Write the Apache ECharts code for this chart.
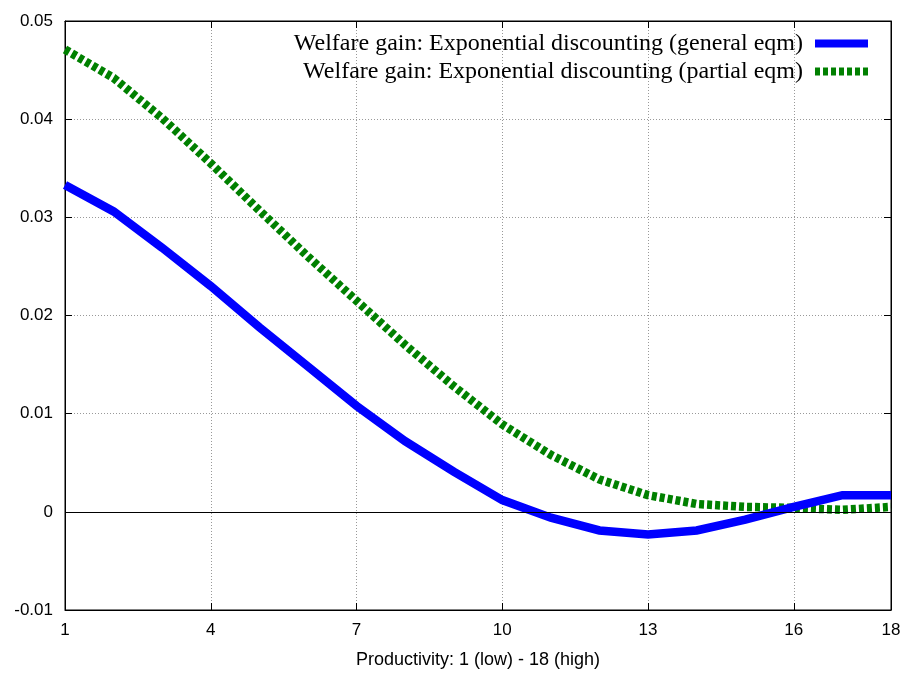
<!DOCTYPE html>
<html><head><meta charset="utf-8">
<script src="https://cdn.jsdelivr.net/npm/echarts@6/dist/echarts.min.js"></script>
<style>html,body{margin:0;padding:0;background:#fff}#c{width:908px;height:673px}</style>
</head><body><div id="c"></div>
<script>
var productivity = [1,2,3,4,5,6,7,8,9,10,11,12,13,14,15,16,17,18];
var generalEqm = [0.0333,0.0306,0.0269,0.0230,0.0188,0.0148,0.0108,0.0072,0.0041,0.0012,-0.0006,-0.0019,-0.0023,-0.0019,-0.0008,0.0005,0.0017,0.0017];
var partialEqm = [0.0471,0.0442,0.0401,0.0355,0.0307,0.0260,0.0215,0.0170,0.0128,0.0089,0.0058,0.0033,0.0017,0.0008,0.0005,0.0004,0.0002,0.0005];
var seriesNames = ['Welfare gain: Exponential discounting (general eqm)','Welfare gain: Exponential discounting (partial eqm)'];
var xTitle = 'Productivity: 1 (low) - 18 (high)';

function pairs(ys){ return productivity.map(function(x,i){ return [x, ys[i]]; }); }
var sans = 'Liberation Sans, Arial, sans-serif';
var dashIcon = 'path://M0,0H5V8H0Z M8,0H13V8H8Z M16,0H21V8H16Z M24,0H29V8H24Z M32,0H37V8H32Z M40,0H45V8H40Z M48,0H53V8H48Z';
var chart = echarts.init(document.getElementById('c'), null, {renderer:'canvas'});
var gridLine = {show:true, lineStyle:{color:'#999', type:[1,2], width:1}};
chart.setOption({
  animation:false,
  backgroundColor:'#fff',
  grid:{left:65, right:17, top:21, bottom:63, containLabel:false, outerBoundsMode:'none',
    show:true, borderColor:'#000', borderWidth:1, backgroundColor:'transparent'},
  legend:{
    orient:'vertical', right:40, top:31.5, padding:0, align:'right', itemGap:4,
    itemWidth:53, itemHeight:8,
    textStyle:{fontFamily:'Liberation Serif, Times New Roman, serif', fontSize:24, lineHeight:24, color:'#000', padding:[0,7,0,0]},
    data:[
      {name:seriesNames[0], icon:'rect', itemStyle:{color:'#0000ff'}},
      {name:seriesNames[1], icon:dashIcon, itemStyle:{color:'#008000'}}
    ]
  },
  xAxis:[{
    type:'value', min:1, max:18, interval:3,
    name:xTitle, nameLocation:'middle', nameGap:41,
    nameTextStyle:{fontFamily:sans, fontSize:18, color:'#000'},
    axisLine:{show:true, onZero:false, lineStyle:{color:'#000', width:1}},
    axisTick:{show:true, inside:true, length:7, lineStyle:{color:'#000'}},
    axisLabel:{fontFamily:sans, fontSize:17, color:'#000', margin:12},
    splitLine:gridLine
  },{
    type:'value', min:1, max:18, interval:3, position:'top',
    axisLine:{show:true, onZero:false, lineStyle:{color:'#000'}},
    axisTick:{show:true, inside:true, length:7, lineStyle:{color:'#000'}},
    axisLabel:{show:false}, splitLine:{show:false}
  }],
  yAxis:[{
    type:'value', min:-0.01, max:0.05, interval:0.01,
    axisLine:{show:true, onZero:false, lineStyle:{color:'#000'}},
    axisTick:{show:true, inside:true, length:7, lineStyle:{color:'#000'}},
    axisLabel:{fontFamily:sans, fontSize:17, color:'#000', margin:12,
      formatter:function(v){ return String(Math.round(v*100)/100); }},
    splitLine:gridLine
  },{
    type:'value', min:-0.01, max:0.05, interval:0.01, position:'right',
    axisLine:{show:true, onZero:false, lineStyle:{color:'#000'}},
    axisTick:{show:true, inside:true, length:7, lineStyle:{color:'#000'}},
    axisLabel:{show:false}, splitLine:{show:false}
  }],
  series:[{
    name:seriesNames[0], type:'line', data:pairs(generalEqm), symbol:'none',
    lineStyle:{color:'#0000ff', width:8.5, cap:'butt', join:'miter'}, itemStyle:{color:'#0000ff'},
    markLine:{silent:true, symbol:'none', label:{show:false}, lineStyle:{color:'#000', type:'solid', width:1},
      data:[{yAxis:0}]},
    z:3
  },{
    name:seriesNames[1], type:'line', data:pairs(partialEqm), symbol:'none',
    lineStyle:{color:'#008000', width:8.5, type:[5,3], cap:'butt'}, itemStyle:{color:'#008000'},
    z:2
  }]
});
</script></body></html>
